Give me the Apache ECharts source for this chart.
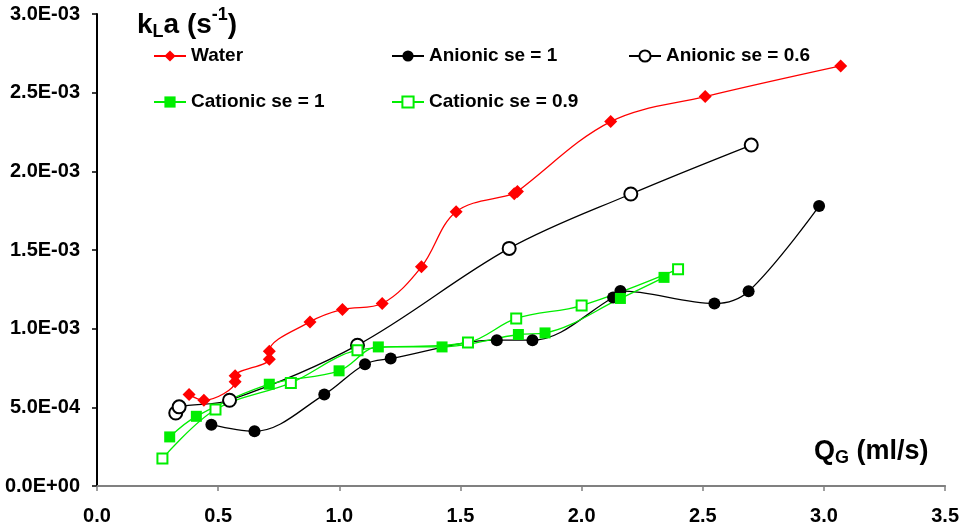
<!DOCTYPE html>
<html>
<head>
<meta charset="utf-8">
<script src="https://cdn.jsdelivr.net/npm/echarts@6/dist/echarts.min.js"></script>
<style>
  html, body { margin: 0; padding: 0; background: #fff; }
  #chart { width: 962px; height: 528px; }
</style>
</head>
<body>
<div id="chart"></div>
<script>
// Gas flow rate Q_G (ml/s) against volumetric mass-transfer coefficient kLa (s^-1)
const xTicks = [0.0, 0.5, 1.0, 1.5, 2.0, 2.5, 3.0, 3.5];
const yTicks = [0, 0.0005, 0.0010, 0.0015, 0.0020, 0.0025, 0.0030];

const seriesNames = ['Water', 'Anionic se = 1', 'Anionic se = 0.6', 'Cationic se = 1', 'Cationic se = 0.9'];

const waterQ   = [0.380, 0.441, 0.570, 0.570, 0.711, 0.711, 0.879, 1.013, 1.177, 1.339, 1.482, 1.722, 1.735, 2.120, 2.510, 3.069];
const waterKLa = [5.81e-4, 5.45e-4, 6.62e-4, 7.00e-4, 8.06e-4, 8.57e-4, 1.043e-3, 1.122e-3, 1.160e-3, 1.393e-3, 1.743e-3, 1.858e-3, 1.872e-3, 2.316e-3, 2.475e-3, 2.670e-3];

const anion1Q   = [0.472, 0.650, 0.938, 1.106, 1.212, 1.650, 1.797, 2.130, 2.160, 2.548, 2.689, 2.980];
const anion1KLa = [3.90e-4, 3.48e-4, 5.81e-4, 7.74e-4, 8.10e-4, 9.27e-4, 9.27e-4, 1.198e-3, 1.240e-3, 1.160e-3, 1.238e-3, 1.779e-3];

const anion06Q   = [0.325, 0.339, 0.547, 1.075, 1.701, 2.203, 2.700];
const anion06KLa = [4.64e-4, 5.03e-4, 5.45e-4, 8.95e-4, 1.510e-3, 1.856e-3, 2.167e-3];

const cation1Q   = [0.300, 0.410, 0.711, 0.999, 1.161, 1.424, 1.739, 1.849, 2.160, 2.340];
const cation1KLa = [3.12e-4, 4.43e-4, 6.47e-4, 7.32e-4, 8.84e-4, 8.84e-4, 9.63e-4, 9.73e-4, 1.192e-3, 1.326e-3];

const cation09Q   = [0.270, 0.489, 0.800, 1.075, 1.531, 1.730, 2.000, 2.398];
const cation09KLa = [1.74e-4, 4.86e-4, 6.55e-4, 8.63e-4, 9.12e-4, 1.065e-3, 1.147e-3, 1.378e-3];

const pairs = (xs, ys) => xs.map((x, i) => [x, ys[i]]);

function sciLabel(v) {
  const s = Number(v).toExponential(1);          // e.g. "5.0e-4"
  const [mant, exp] = s.split('e');
  const sign = exp[0] === '-' ? '-' : '+';
  const digits = exp.replace(/[+-]/, '').padStart(2, '0');
  return mant + 'E' + sign + digits;
}

const FONT = '"Liberation Sans", Arial, sans-serif';
const chart = echarts.init(document.getElementById('chart'));

function lineSeries(name, data, color, symbol, size, filled) {
  return {
    name, type: 'line', data,
    smooth: 0.35,
    symbol, symbolSize: size,
    showAllSymbol: true,
    lineStyle: { color, width: 1.3 },
    itemStyle: filled ? { color, borderWidth: 0 } : { color, borderColor: color, borderWidth: 1.3 },
    emphasis: { disabled: true },
    z: 3
  };
}

function legendAt(name, left, top) {
  return {
    data: [name], left, top, padding: 0,
    itemWidth: 32, itemHeight: 14, itemGap: 5,
    selectedMode: false,
    textStyle: { fontFamily: FONT, fontSize: 19, fontWeight: 'bold', color: '#000', lineHeight: 22 }
  };
}

chart.setOption({
  animation: false,
  backgroundColor: '#fff',
  grid: { left: 97, right: 14, top: 14, bottom: 42, containLabel: false },
  legend: [
    legendAt(seriesNames[0], 153, 45),
    legendAt(seriesNames[1], 391, 45),
    legendAt(seriesNames[2], 628, 45),
    legendAt(seriesNames[3], 153, 91),
    legendAt(seriesNames[4], 391, 91)
  ],
  xAxis: {
    type: 'value',
    min: xTicks[0], max: xTicks[xTicks.length - 1], interval: 0.5,
    axisLine: { onZero: false, lineStyle: { color: '#808080', width: 2 } },
    axisTick: { show: true, length: 5, lineStyle: { color: '#808080', width: 1.5 } },
    splitLine: { show: false },
    axisLabel: {
      margin: 20, color: '#000', fontFamily: FONT, fontSize: 20, fontWeight: 'bold',
      formatter: v => Number(v).toFixed(1)
    }
  },
  yAxis: {
    type: 'value',
    min: yTicks[0], max: yTicks[yTicks.length - 1], interval: 0.0005,
    axisLine: { show: true, onZero: false, lineStyle: { color: '#000', width: 2 } },
    axisTick: { show: true, length: 5, lineStyle: { color: '#000', width: 1.5 } },
    splitLine: { show: false },
    axisLabel: {
      margin: 17, color: '#000', fontFamily: FONT, fontSize: 20, fontWeight: 'bold',
      formatter: v => sciLabel(v)
    }
  },
  graphic: [
    {
      type: 'text', left: 137, top: 6, z: 10,
      style: {
        text: '{m|k}{sub|L}{m|a (s}{sup|-1}{m|)}',
        rich: {
          m:   { fontFamily: FONT, fontSize: 28, fontWeight: 'bold', fill: '#000', lineHeight: 38, verticalAlign: 'middle' },
          sub: { fontFamily: FONT, fontSize: 18, fontWeight: 'bold', fill: '#000', lineHeight: 38, verticalAlign: 'bottom', padding: [0, 0, 3, 0] },
          sup: { fontFamily: FONT, fontSize: 18, fontWeight: 'bold', fill: '#000', lineHeight: 38, verticalAlign: 'top', padding: [0, 0, 0, 0] }
        }
      }
    },
    {
      type: 'text', left: 814, top: 438, z: 10,
      style: {
        text: '{m|Q}{sub|G}{m| (ml/s)}',
        rich: {
          m:   { fontFamily: FONT, fontSize: 27, fontWeight: 'bold', fill: '#000', lineHeight: 34, verticalAlign: 'middle' },
          sub: { fontFamily: FONT, fontSize: 18, fontWeight: 'bold', fill: '#000', lineHeight: 34, verticalAlign: 'bottom', padding: [0, 0, 1, 0] }
        }
      }
    }
  ],
  series: [
    lineSeries(seriesNames[0], pairs(waterQ, waterKLa), '#ff0000', 'diamond', 13, true),
    lineSeries(seriesNames[1], pairs(anion1Q, anion1KLa), '#000000', 'circle', 12, true),
    lineSeries(seriesNames[2], pairs(anion06Q, anion06KLa), '#000000', 'emptyCircle', 13, false),
    lineSeries(seriesNames[3], pairs(cation1Q, cation1KLa), '#00ee00', 'rect', 11, true),
    lineSeries(seriesNames[4], pairs(cation09Q, cation09KLa), '#00ee00', 'emptyRect', 10, false)
  ]
});
</script>
</body>
</html>
